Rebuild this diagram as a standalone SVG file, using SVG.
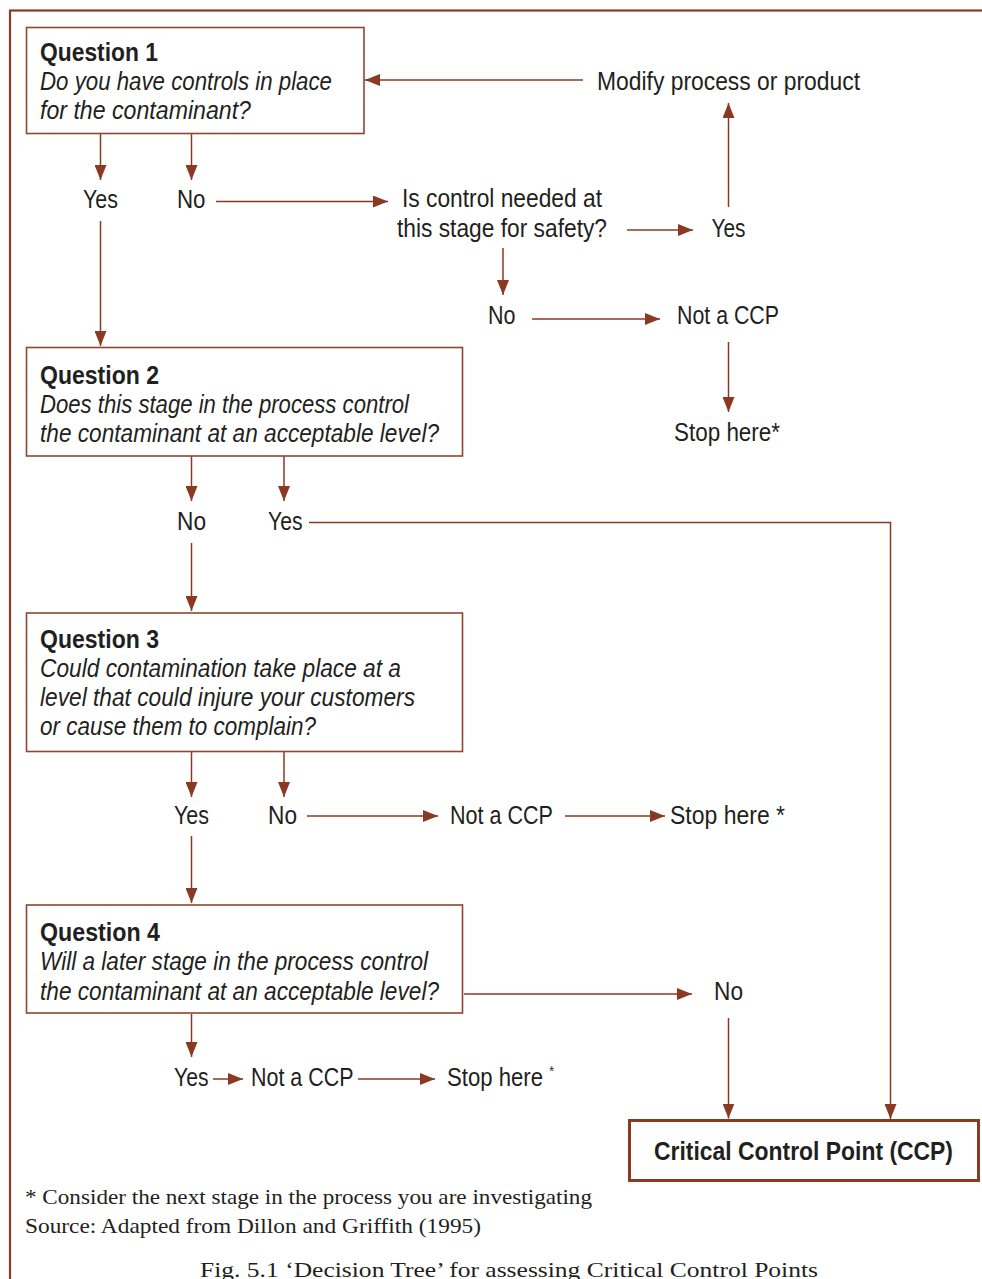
<svg xmlns="http://www.w3.org/2000/svg" width="982" height="1279" viewBox="0 0 982 1279">
<style>
.frame{fill:none;stroke:#8a3a22;stroke-width:2.2}
.box{fill:#fff;stroke:#8f4530;stroke-width:1.6}
.ccpbox{fill:#fff;stroke:#8a3a22;stroke-width:3}
.c{fill:none;stroke:#8a3a22;stroke-width:1.5}
.t{font-family:"Liberation Sans",Arial,sans-serif;font-size:25px;fill:#231f20}
.b{font-weight:bold}
.i{font-style:italic}
.s{font-family:"Liberation Serif","Times New Roman",serif;font-size:21px;fill:#231f20}
</style>
<defs>
<marker id="ah" markerUnits="userSpaceOnUse" markerWidth="15" markerHeight="12" refX="15" refY="6" orient="auto">
<path d="M0,0 L15,6 L0,12 z" fill="#8a3a22"/>
</marker>
</defs>
<rect id="frame" class="frame" x="10" y="10.5" width="990" height="1300"/>

<g id="connectors" class="c" marker-end="url(#ah)">
<line x1="583" y1="80" x2="365" y2="80"/>
<line x1="100.5" y1="134" x2="100.5" y2="180"/>
<line x1="191.5" y1="134" x2="191.5" y2="180"/>
<line x1="216" y1="201.5" x2="388" y2="201.5"/>
<line x1="627" y1="230" x2="693" y2="230"/>
<line x1="728.5" y1="207" x2="728.5" y2="103"/>
<line x1="503" y1="248" x2="503" y2="295"/>
<line x1="532" y1="319" x2="660" y2="319"/>
<line x1="728.5" y1="342" x2="728.5" y2="412"/>
<line x1="100.5" y1="221" x2="100.5" y2="346"/>
<line x1="191.5" y1="456" x2="191.5" y2="501"/>
<line x1="284" y1="456" x2="284" y2="501"/>
<polyline points="309,522.5 890.5,522.5 890.5,1119"/>
<line x1="191.5" y1="543" x2="191.5" y2="611"/>
<line x1="191.5" y1="752" x2="191.5" y2="797"/>
<line x1="284" y1="752" x2="284" y2="797"/>
<line x1="307" y1="816" x2="438" y2="816"/>
<line x1="565" y1="816" x2="665" y2="816"/>
<line x1="191.5" y1="836" x2="191.5" y2="903"/>
<line x1="464" y1="994" x2="692" y2="994"/>
<line x1="728.5" y1="1018" x2="728.5" y2="1118.5"/>
<line x1="191.5" y1="1014" x2="191.5" y2="1057"/>
<line x1="213" y1="1079" x2="243" y2="1079"/>
<line x1="358" y1="1079" x2="435" y2="1079"/>
</g>

<g id="q1">
<rect class="box" x="26.5" y="27.5" width="337.5" height="106"/>
<text class="t b" x="40" y="61" textLength="118" lengthAdjust="spacingAndGlyphs">Question 1</text>
<text class="t i" x="40" y="90" textLength="292" lengthAdjust="spacingAndGlyphs">Do you have controls in place</text>
<text class="t i" x="40" y="119" textLength="211" lengthAdjust="spacingAndGlyphs">for the contaminant?</text>
</g>
<g id="modify"><text class="t" x="597" y="90" textLength="263" lengthAdjust="spacingAndGlyphs">Modify process or product</text></g>
<g id="q1yes"><text class="t" x="83" y="208" textLength="35" lengthAdjust="spacingAndGlyphs">Yes</text></g>
<g id="q1no"><text class="t" x="177" y="208" textLength="28.5" lengthAdjust="spacingAndGlyphs">No</text></g>
<g id="needed">
<text class="t" x="402" y="207" textLength="200" lengthAdjust="spacingAndGlyphs">Is control needed at</text>
<text class="t" x="397" y="237" textLength="210" lengthAdjust="spacingAndGlyphs">this stage for safety?</text>
</g>
<g id="neededyes"><text class="t" x="711.5" y="237" textLength="34" lengthAdjust="spacingAndGlyphs">Yes</text></g>
<g id="neededno"><text class="t" x="488" y="324" textLength="27.5" lengthAdjust="spacingAndGlyphs">No</text></g>
<g id="notccp1"><text class="t" x="677" y="324" textLength="102" lengthAdjust="spacingAndGlyphs">Not a CCP</text></g>
<g id="stop1"><text class="t" x="674" y="441" textLength="106" lengthAdjust="spacingAndGlyphs">Stop here*</text></g>

<g id="q2">
<rect class="box" x="26.5" y="347.5" width="436" height="108.5"/>
<text class="t b" x="40" y="384" textLength="119" lengthAdjust="spacingAndGlyphs">Question 2</text>
<text class="t i" x="40" y="413" textLength="369" lengthAdjust="spacingAndGlyphs">Does this stage in the process control</text>
<text class="t i" x="40" y="442" textLength="399" lengthAdjust="spacingAndGlyphs">the contaminant at an acceptable level?</text>
</g>
<g id="q2no"><text class="t" x="177" y="530" textLength="29" lengthAdjust="spacingAndGlyphs">No</text></g>
<g id="q2yes"><text class="t" x="268" y="530" textLength="34.5" lengthAdjust="spacingAndGlyphs">Yes</text></g>

<g id="q3">
<rect class="box" x="26.5" y="613" width="436" height="138.5"/>
<text class="t b" x="40" y="648" textLength="119" lengthAdjust="spacingAndGlyphs">Question 3</text>
<text class="t i" x="40" y="677" textLength="361" lengthAdjust="spacingAndGlyphs">Could contamination take place at a</text>
<text class="t i" x="40" y="706" textLength="375" lengthAdjust="spacingAndGlyphs">level that could injure your customers</text>
<text class="t i" x="40" y="735" textLength="276" lengthAdjust="spacingAndGlyphs">or cause them to complain?</text>
</g>
<g id="q3yes"><text class="t" x="174" y="824" textLength="35" lengthAdjust="spacingAndGlyphs">Yes</text></g>
<g id="q3no"><text class="t" x="268" y="824" textLength="29" lengthAdjust="spacingAndGlyphs">No</text></g>
<g id="notccp2"><text class="t" x="450" y="824" textLength="103" lengthAdjust="spacingAndGlyphs">Not a CCP</text></g>
<g id="stop2"><text class="t" x="670" y="824" textLength="115" lengthAdjust="spacingAndGlyphs">Stop here *</text></g>

<g id="q4">
<rect class="box" x="26.5" y="905" width="436" height="108"/>
<text class="t b" x="40" y="941" textLength="120" lengthAdjust="spacingAndGlyphs">Question 4</text>
<text class="t i" x="40" y="970" textLength="388" lengthAdjust="spacingAndGlyphs">Will a later stage in the process control</text>
<text class="t i" x="40" y="1000" textLength="399" lengthAdjust="spacingAndGlyphs">the contaminant at an acceptable level?</text>
</g>
<g id="q4no"><text class="t" x="714" y="1000" textLength="29" lengthAdjust="spacingAndGlyphs">No</text></g>
<g id="q4yes"><text class="t" x="174" y="1086" textLength="34.5" lengthAdjust="spacingAndGlyphs">Yes</text></g>
<g id="notccp3"><text class="t" x="251" y="1086" textLength="102.5" lengthAdjust="spacingAndGlyphs">Not a CCP</text></g>
<g id="stop3"><text class="t" x="447" y="1086" textLength="107" lengthAdjust="spacingAndGlyphs">Stop here <tspan style="font-size:14px" dy="-10">*</tspan></text></g>

<g id="ccp">
<rect class="ccpbox" x="629.5" y="1120.5" width="349" height="60"/>
<text class="t b" x="654" y="1160" textLength="299" lengthAdjust="spacingAndGlyphs">Critical Control Point (CCP)</text>
</g>

<g id="notes">
<text class="s" x="25" y="1204" textLength="567" lengthAdjust="spacingAndGlyphs">*  Consider the next stage in the process you are investigating</text>
<text class="s" x="25" y="1233" textLength="456" lengthAdjust="spacingAndGlyphs">Source: Adapted from Dillon and Griffith (1995)</text>
<text class="s" x="200" y="1277" style="font-size:22px" textLength="618" lengthAdjust="spacingAndGlyphs">Fig. 5.1  ‘Decision Tree’ for assessing Critical Control Points</text>
</g>
</svg>
